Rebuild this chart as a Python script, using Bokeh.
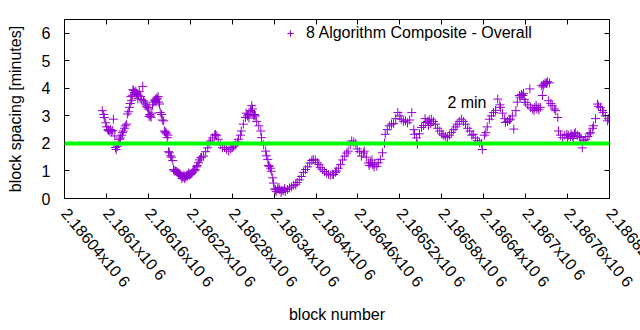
import math
from bokeh.plotting import figure
from bokeh.models import (Range1d, LinearAxis, FixedTicker, Span, Label,
                          Legend, LegendItem, ColumnDataSource, CustomLabelingPolicy)
from bokeh.embed import file_html
from bokeh.resources import INLINE

# ---- data ----
blocks = [
    2186094, 2186096, 2186097, 2186099, 2186100, 2186102, 2186103, 2186104, 2186106, 2186107,
    2186109, 2186110, 2186112, 2186113, 2186114, 2186116, 2186117, 2186119, 2186120, 2186122,
    2186123, 2186124, 2186126, 2186127, 2186129, 2186130, 2186132, 2186133, 2186134, 2186136,
    2186137, 2186139, 2186140, 2186142, 2186143, 2186144, 2186146, 2186147, 2186149, 2186150,
    2186152, 2186153, 2186154, 2186156, 2186157, 2186159, 2186160, 2186162, 2186163, 2186165,
    2186166, 2186167, 2186169, 2186170, 2186172, 2186173, 2186175, 2186176, 2186177, 2186179,
    2186180, 2186182, 2186183, 2186185, 2186186, 2186187, 2186189, 2186190, 2186192, 2186193,
    2186195, 2186196, 2186197, 2186199, 2186200, 2186202, 2186203, 2186205, 2186206, 2186207,
    2186209, 2186210, 2186212, 2186213, 2186215, 2186216, 2186217, 2186219, 2186220, 2186222,
    2186223, 2186225, 2186226, 2186227, 2186229, 2186230, 2186232, 2186233, 2186235, 2186236,
    2186239, 2186242, 2186245, 2186247, 2186249, 2186252, 2186255, 2186256, 2186258, 2186260,
    2186263, 2186266, 2186269, 2186272, 2186275, 2186278, 2186280, 2186282, 2186285, 2186288,
    2186289, 2186292, 2186293, 2186296, 2186299, 2186302, 2186303, 2186306, 2186308, 2186309,
    2186311, 2186312, 2186313, 2186315, 2186318, 2186321, 2186322, 2186325, 2186328, 2186329,
    2186331, 2186332, 2186333, 2186335, 2186336, 2186338, 2186339, 2186341, 2186342, 2186345,
    2186348, 2186351, 2186353, 2186356, 2186359, 2186362, 2186365, 2186368, 2186371, 2186373,
    2186376, 2186379, 2186382, 2186385, 2186388, 2186391, 2186394, 2186396, 2186399, 2186402,
    2186404, 2186406, 2186409, 2186412, 2186415, 2186418, 2186421, 2186424, 2186425, 2186428,
    2186429, 2186432, 2186435, 2186438, 2186441, 2186444, 2186446, 2186449, 2186451, 2186454,
    2186457, 2186459, 2186462, 2186465, 2186468, 2186469, 2186472, 2186475, 2186478, 2186481,
    2186484, 2186487, 2186489, 2186492, 2186495, 2186498, 2186499, 2186502, 2186505, 2186508,
    2186511, 2186514, 2186517, 2186520, 2186522, 2186525, 2186528, 2186531, 2186534, 2186537,
    2186540, 2186541, 2186544, 2186545, 2186548, 2186551, 2186554, 2186557, 2186560, 2186562,
    2186565, 2186568, 2186571, 2186574, 2186577, 2186580, 2186582, 2186585, 2186588, 2186591,
    2186594, 2186597, 2186600, 2186602, 2186605, 2186608, 2186611, 2186614, 2186617, 2186620,
    2186623, 2186625, 2186628, 2186631, 2186634, 2186637, 2186638, 2186641, 2186643, 2186645,
    2186648, 2186651, 2186654, 2186657, 2186660, 2186663, 2186664, 2186667, 2186670, 2186671,
    2186674, 2186677, 2186678, 2186681, 2186683, 2186686, 2186688, 2186691, 2186694, 2186696,
    2186698, 2186700, 2186703, 2186706, 2186707, 2186710, 2186713, 2186716, 2186718, 2186721,
    2186723, 2186724, 2186726, 2186728, 2186731, 2186733, 2186734, 2186736, 2186738, 2186741,
    2186743, 2186746, 2186747, 2186750, 2186753, 2186756, 2186759, 2186761, 2186764, 2186767,
    2186770, 2186771, 2186774, 2186777, 2186779, 2186781, 2186783, 2186786, 2186789, 2186791,
    2186793, 2186796, 2186797, 2186800, 2186803, 2186804, 2186807, 2186810, 2186811, 2186814,
    2186817, 2186819,
]
spacing_minutes = [
    3.19, 3.05, 2.94, 2.75, 2.60, 2.50, 2.48, 2.45, 2.50, 2.42,
    2.47, 2.88, 2.27, 1.85, 1.78, 1.90, 2.00, 2.15, 2.20, 2.30,
    2.39, 2.45, 2.55, 2.64, 2.70, 3.07, 3.15, 3.31, 3.45, 3.55,
    3.75, 3.92, 3.85, 3.90, 3.82, 3.80, 3.75, 3.88, 3.70, 3.60,
    4.07, 3.55, 3.50, 3.43, 3.35, 3.30, 3.25, 3.05, 3.00, 3.10,
    3.40, 3.50, 3.55, 3.60, 3.65, 3.61, 3.50, 3.43, 3.12, 3.05,
    2.85, 2.82, 2.45, 2.39, 2.35, 2.21, 1.70, 1.66, 1.55, 1.50,
    1.38, 1.05, 1.00, 1.00, 0.98, 0.95, 0.92, 0.90, 0.85, 0.82,
    0.80, 0.78, 0.72, 0.80, 0.85, 0.82, 0.88, 0.86, 0.87, 0.90,
    0.95, 1.00, 1.02, 1.05, 1.15, 1.20, 1.30, 1.40, 1.48, 1.50,
    1.54, 1.70, 1.84, 2.00, 2.09, 2.20, 2.30, 2.33, 2.28, 2.15,
    1.95, 1.84, 1.85, 1.78, 1.72, 1.80, 1.85, 1.90, 1.95, 2.05,
    2.15, 2.30, 2.45, 2.70, 2.94, 3.00, 3.05, 3.19, 3.37, 3.25,
    3.00, 3.05, 3.00, 2.80, 2.64, 2.45, 2.21, 1.95, 1.72, 1.55,
    1.42, 1.20, 1.17, 1.10, 0.99, 0.75, 0.56, 0.35, 0.32, 0.35,
    0.32, 0.30, 0.28, 0.26, 0.33, 0.38, 0.42, 0.48, 0.50, 0.58,
    0.68, 0.80, 0.95, 1.05, 1.15, 1.29, 1.38, 1.42, 1.40, 1.30,
    1.23, 1.12, 1.05, 0.98, 0.92, 0.87, 0.85, 0.88, 0.87, 0.95,
    1.00, 1.10, 1.23, 1.40, 1.54, 1.65, 1.72, 1.95, 2.09, 2.05,
    2.00, 1.80, 1.70, 1.54, 1.65, 1.72, 1.50, 1.29, 1.30, 1.23,
    1.25, 1.17, 1.30, 1.42, 1.66, 2.00, 2.33, 2.50, 2.64, 2.70,
    2.72, 2.90, 3.12, 3.00, 2.88, 2.80, 2.82, 2.75, 2.85, 3.12,
    2.50, 2.33, 2.20, 1.97, 2.35, 2.58, 2.65, 2.76, 2.80, 2.85,
    2.88, 2.80, 2.70, 2.55, 2.45, 2.35, 2.30, 2.25, 2.21, 2.30,
    2.40, 2.50, 2.60, 2.70, 2.80, 2.88, 2.80, 2.70, 2.55, 2.45,
    2.30, 2.33, 2.20, 2.10, 2.03, 2.00, 1.78, 2.30, 2.39, 2.60,
    2.88, 3.00, 3.12, 3.20, 3.61, 3.40, 3.31, 3.10, 2.90, 2.76,
    2.80, 2.85, 2.88, 3.00, 2.52, 3.19, 3.50, 3.74, 3.78, 3.74,
    3.60, 3.49, 3.40, 3.98, 3.31, 3.25, 3.30, 3.25, 3.30, 3.31,
    4.10, 3.74, 4.15, 4.20, 4.25, 3.55, 4.20, 3.45, 3.37, 3.25,
    3.19, 2.94, 2.45, 2.30, 2.21, 2.30, 2.33, 2.30, 2.25, 2.27,
    2.35, 2.39, 2.30, 2.25, 2.21, 1.84, 2.10, 2.15, 2.25, 2.35,
    2.39, 2.55, 2.64, 2.90, 3.43, 3.35, 3.31, 3.20, 3.12, 3.00,
    2.82, 2.90,
]
# additional points in the dense clusters
extra_blocks = [
    2186135, 2186138, 2186141, 2186145, 2186161, 2186164, 2186171, 2186174,
    2186184, 2186188, 2186204, 2186208, 2186211, 2186214, 2186218, 2186300,
    2186304, 2186307, 2186310, 2186343, 2186347, 2186350, 2186355, 2186476,
    2186480, 2186483, 2186556, 2186561, 2186564, 2186692, 2186697, 2186712,
    2186715, 2186719, 2186725, 2186730, 2186760, 2186765, 2186768,
]
extra_spacing_minutes = [
    3.70, 3.95, 3.78, 3.62, 2.98, 2.95, 3.52, 3.70,
    2.42, 2.30, 0.88, 0.72, 0.85, 0.78, 0.93, 3.10,
    2.92, 3.15, 3.05, 0.25, 0.40, 0.22, 0.36, 1.20,
    1.40, 1.15, 2.90, 2.65, 2.72, 3.68, 3.82, 3.20,
    3.38, 3.22, 4.05, 4.18, 2.20, 2.35, 2.18,
]

x_ticks = [2186040, 2186100, 2186160, 2186220, 2186280, 2186340, 2186400,
           2186460, 2186520, 2186580, 2186640, 2186700, 2186760, 2186820]
x_tick_labels = ["2.18604x10 6", "2.1861x10 6", "2.18616x10 6", "2.18622x10 6",
                 "2.18628x10 6", "2.18634x10 6", "2.1864x10 6", "2.18646x10 6",
                 "2.18652x10 6", "2.18658x10 6", "2.18664x10 6", "2.1867x10 6",
                 "2.18676x10 6", "2.18682x10 6"]
y_ticks = [0, 1, 2, 3, 4, 5, 6]
y_min, y_max = 0, 6.5
target_minutes = 2
target_label = "2 min"
series_name = "8 Algorithm Composite - Overall"

FONT = "Liberation Sans"
FS = "16px"
PURPLE = "#9400d3"

p = figure(width=640, height=330, output_backend="svg", toolbar_location=None,
           x_range=Range1d(x_ticks[0], x_ticks[-1]), y_range=Range1d(y_min, y_max),
           min_border_left=64, min_border_right=31, min_border_top=19,
           min_border_bottom=132)
p.outline_line_color = "black"
p.outline_line_width = 1
p.grid.visible = False

src = ColumnDataSource(dict(x=blocks + extra_blocks,
                            y=spacing_minutes + extra_spacing_minutes))
r = p.scatter("x", "y", source=src, marker="cross", size=9,
              line_color=PURPLE, line_width=1)

def style_axis(ax):
    ax.major_tick_in = 5
    ax.major_tick_out = 0
    ax.minor_tick_in = 0
    ax.minor_tick_out = 0
    ax.major_tick_line_color = "black"
    ax.axis_line_color = "black"
    ax.major_label_text_font = FONT
    ax.major_label_text_font_size = FS
    ax.major_label_text_color = "black"
    ax.axis_label_text_font = FONT
    ax.axis_label_text_font_size = FS
    ax.axis_label_text_font_style = "normal"
    ax.axis_label_text_color = "black"

no_labels = CustomLabelingPolicy(code="""
    for (const i of Array.from(indices)) { indices.unset(i) }
    return indices
""")

# bottom axis. The right-most tick is listed second so that Bokeh does not
# nudge its label inward (it only nudges the first and last label); the
# label is left to run off the edge as in the original.
bottom_ticks = [x_ticks[0], x_ticks[-1]] + x_ticks[1:-1]
xax = p.xaxis[0]
xax.ticker = FixedTicker(ticks=bottom_ticks)
xax.major_label_overrides = {t: l for t, l in zip(x_ticks, x_tick_labels)}
xax.major_label_orientation = -math.radians(50)
xax.axis_label = "block number"
style_axis(xax)
xax.major_label_standoff = 12
xax.axis_label_standoff = 7

yax = p.yaxis[0]
yax.ticker = FixedTicker(ticks=y_ticks)
yax.axis_label = "block spacing [minutes]"
style_axis(yax)
yax.major_label_standoff = 14
yax.axis_label_standoff = 15

top = LinearAxis(ticker=FixedTicker(ticks=x_ticks))
style_axis(top)
top.major_label_text_font_size = "1px"
top.major_label_standoff = 0
top.major_label_policy = no_labels
p.add_layout(top, "above")

right = LinearAxis(ticker=FixedTicker(ticks=y_ticks))
style_axis(right)
right.major_label_text_font_size = "1px"
right.major_label_standoff = 0
right.major_label_policy = no_labels
p.add_layout(right, "right")

p.add_layout(Span(location=target_minutes, dimension="width",
                  line_color="#00ff00", line_width=4))

p.add_layout(Label(x=2186588, y=3.5, text=target_label, text_font=FONT,
                   text_font_size=FS, text_baseline="middle", text_align="left",
                   text_color="black"))

legend = Legend(items=[LegendItem(label=series_name, renderers=[r])],
                location=(218, 156))
legend.background_fill_alpha = 0
legend.border_line_alpha = 0
legend.padding = 0
legend.margin = 0
legend.glyph_width = 16
legend.glyph_height = 16
legend.label_standoff = 8
legend.label_text_font = FONT
legend.label_text_font_size = FS
legend.label_text_color = "black"
p.add_layout(legend)

open("out.html", "w").write(file_html(p, INLINE))
